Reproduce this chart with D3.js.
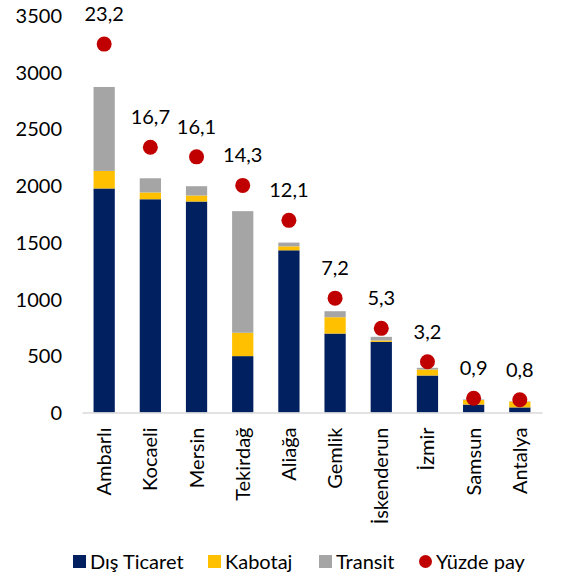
<!DOCTYPE html>
<html><head><meta charset="utf-8">
<script src="https://cdn.jsdelivr.net/npm/d3@7"></script>
<style>body{margin:0;background:#fff}svg{display:block;font-family:Lato,"Open Sans",sans-serif}</style>
</head><body><svg id="c" width="578" height="575"></svg>
<script>
const categories = ["Ambarlı","Kocaeli","Mersin","Tekirdağ","Aliağa","Gemlik","İskenderun","İzmir","Samsun","Antalya"];
const disTicaret = [1975,1880,1860,497,1430,696,623,326,70,45];
const kabotaj    = [155,60,53,206,35,144,12,53,40,52];
const transit    = [740,125,82,1072,33,53,32,15,5,3];
const yuzdePay   = [23.2,16.7,16.1,14.3,12.1,7.2,5.3,3.2,0.9,0.8];
const yTicks = [0,500,1000,1500,2000,2500,3000,3500];
const seriesNames = ["Dış Ticaret","Kabotaj","Transit"];
const colors = ["#002060","#FFC000","#A5A5A5"];
const dotColor = "#C00000";
const FS = 20;

const svg = d3.select("#c");
const x = d3.scaleBand().domain(categories).range([82,542]).paddingInner(0.54).paddingOuter(0.25);
const y = d3.scaleLinear().domain([0,3500]).range([412.5,15.5]);
const y2 = d3.scaleLinear().domain([0,25]).range([412.5,15.5]);

const table = categories.map((c,i)=>({cat:c,"Dış Ticaret":disTicaret[i],"Kabotaj":kabotaj[i],"Transit":transit[i]}));
const stack = d3.stack().keys(seriesNames)(table);

// y axis labels
const yAxis = d3.axisLeft(y).tickValues(yTicks).tickSize(0).tickPadding(0).tickFormat(d3.format("d"));
const ga = svg.append("g").attr("transform","translate(62,0)").call(yAxis);
ga.select(".domain").remove();
ga.selectAll("text").attr("font-size",FS).attr("fill","#000").attr("font-family","Lato,'Open Sans',sans-serif").attr("dy","0.35em");

// bars
stack.forEach((s,k)=>{
  svg.append("g").selectAll("rect").data(s).join("rect")
    .attr("x",d=>x(d.data.cat)).attr("width",x.bandwidth())
    .attr("y",d=>y(d[1])).attr("height",d=>Math.max(0,y(d[0])-y(d[1])))
    .attr("fill",colors[k]);
});

// x axis
const xAxis = d3.axisBottom(x).tickSize(0).tickPadding(0);
const gx = svg.append("g").attr("transform","translate(0,412.5)").call(xAxis);
gx.select(".domain").attr("stroke","#D9D9D9").attr("stroke-width",1.5);
gx.selectAll("text").attr("font-size",FS).attr("fill","#000").attr("font-family","Lato,'Open Sans',sans-serif")
  .attr("text-anchor","end").attr("transform","rotate(-90)").attr("x",-15).attr("y",0).attr("dy","0.35em");

// dots
svg.append("g").selectAll("circle").data(yuzdePay).join("circle")
  .attr("cx",(d,i)=>x(categories[i])+x.bandwidth()/2).attr("cy",d=>y2(d)).attr("r",7.5).attr("fill",dotColor);
svg.append("g").selectAll("text").data(yuzdePay).join("text")
  .attr("x",(d,i)=>x(categories[i])+x.bandwidth()/2).attr("y",d=>y2(d)-30).attr("dy","0.35em")
  .attr("text-anchor","middle").attr("font-size",FS).attr("fill","#000")
  .text(d=>d3.format(".1f")(d).replace(".",","));

// legend
const leg = [{n:"Dış Ticaret",c:colors[0],x:73,t:"r"},{n:"Kabotaj",c:colors[1],x:208,t:"r"},{n:"Transit",c:colors[2],x:319,t:"r"},{n:"Yüzde pay",c:dotColor,x:419,t:"c"}];
const lg = svg.append("g");
leg.forEach(l=>{
  if(l.t==="r") lg.append("rect").attr("x",l.x).attr("y",555).attr("width",13).attr("height",13).attr("fill",l.c);
  else lg.append("circle").attr("cx",l.x+6.5).attr("cy",561.5).attr("r",6.5).attr("fill",l.c);
  lg.append("text").attr("x",l.x+17).attr("y",561.5).attr("dy","0.35em").attr("font-size",FS).attr("fill","#000").text(l.n);
});
</script></body></html>
